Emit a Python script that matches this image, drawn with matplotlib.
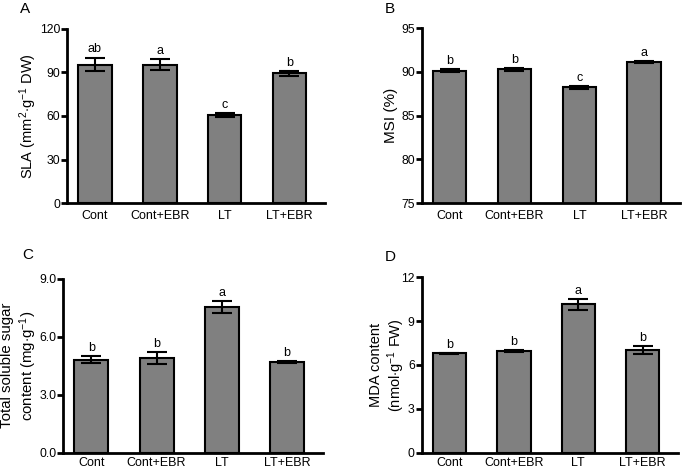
import matplotlib.pyplot as plt
import numpy as np

plt.rcParams['font.family'] = ['Liberation Sans', 'DejaVu Sans']
plt.rcParams['mathtext.fontset'] = 'custom'
plt.rcParams['mathtext.rm'] = 'Liberation Sans'
plt.rcParams['mathtext.it'] = 'Liberation Sans:italic'

# Data
treatments = ['Cont', 'Cont+EBR', 'LT', 'LT+EBR']

sla = [95.5, 95.4, 60.8, 89.4]
sla_err = [4.8, 3.9, 1.2, 1.7]
sla_sig = ['ab', 'a', 'c', 'b']

msi = [90.15, 90.3, 88.25, 91.15]
msi_err = [0.15, 0.17, 0.15, 0.08]
msi_sig = ['b', 'b', 'c', 'a']

sugar = [4.82, 4.9, 7.55, 4.71]
sugar_err = [0.18, 0.33, 0.3, 0.05]
sugar_sig = ['b', 'b', 'a', 'b']

mda = [6.79, 6.94, 10.13, 7.01]
mda_err = [0.05, 0.07, 0.36, 0.27]
mda_sig = ['b', 'b', 'a', 'b']

# (letter, values, errors, letters, ylim, yticks, fmt, ylabel, axes rect,
#  ylabel centre x px, ylabel size, line spacing, xtick pad, panel letter pos)
panels = [
    ('A', sla, sla_err, sla_sig, (0, 120), [0, 30, 60, 90, 120], '%d',
     r'SLA (mm$^{2}$$\cdot$g$^{-1}$ DW)', [0.0978, 0.5699, 0.3767, 0.3687],
     28.5, 10.5, 1.2, 4.8, (20, 13)),
    ('B', msi, msi_err, msi_sig, (75, 95), [75, 80, 85, 90, 95], '%d',
     'MSI (%)', [0.6156, 0.5699, 0.3771, 0.3702],
     391, 11, 1.2, 4.8, (385, 13)),
    ('C', sugar, sugar_err, sugar_sig, (0, 9), [0, 3, 6, 9], '%.1f',
     'Total soluble sugar\n' + r'content (mg$\cdot$g$^{-1}$)', [0.0924, 0.0409, 0.3791, 0.3686],
     19.5, 10.8, 1.2, 3.0, (22, 259)),
    ('D', mda, mda_err, mda_sig, (0, 12), [0, 3, 6, 9, 12], '%d',
     'MDA content\n' + r'(nmol$\cdot$g$^{-1}$ FW)', [0.6156, 0.0409, 0.3744, 0.3720],
     388, 10.5, 1.1, 3.0, (385, 261)),
]

W, H = 685, 472
fig = plt.figure(figsize=(W / 100, H / 100), dpi=100)
x = np.arange(len(treatments))

for (letter, vals, errs, sig, ylim, yticks, fmt, ylabel, pos,
     labx, labsize, lsp, xpad, lpos) in panels:
    ax = fig.add_axes(pos)
    ax.bar(x, vals, width=0.52, color='#808080', edgecolor='black', linewidth=1.5,
           yerr=errs, capsize=7, error_kw=dict(elinewidth=1.5, capthick=1.5, ecolor='black'),
           zorder=2)
    ax.set_xlim(-0.43, 3.55)
    ax.set_ylim(*ylim)
    ax.set_yticks(yticks)
    ax.set_yticklabels([fmt % t for t in yticks])
    ax.set_xticks(x)
    ax.set_xticklabels(treatments, fontsize=9)
    ax.tick_params(axis='x', length=0, pad=xpad)
    ax.tick_params(axis='y', direction='out', length=4, width=2, labelsize=8.8, pad=1)
    for side in ['top', 'right']:
        ax.spines[side].set_visible(False)
    ax.spines['left'].set_linewidth(2)
    ax.spines['bottom'].set_linewidth(2)
    off = (ylim[1] - ylim[0]) * 0.012
    for xi, v, e, s in zip(x, vals, errs, sig):
        ax.text(xi, v + e + off, s, ha='center', va='bottom', fontsize=9)
    # y label and panel letter
    fig.text(labx / W, pos[1] + pos[3] / 2, ylabel, rotation=90, ha='center',
             va='center', multialignment='center', fontsize=labsize, linespacing=lsp)
    fig.text(lpos[0] / W, 1 - lpos[1] / H, letter, fontsize=11,
             ha='left', va='baseline')

fig.savefig('out.png', dpi=100)
